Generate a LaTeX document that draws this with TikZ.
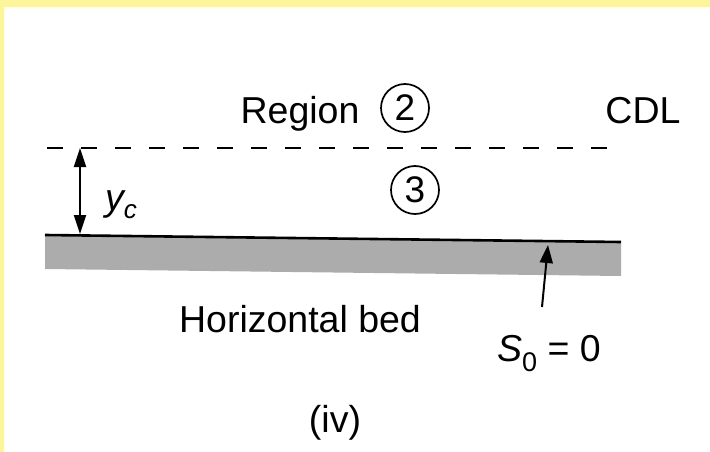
\documentclass[tikz,border=0pt]{standalone}
\usepackage{fontspec}
\setmainfont{Liberation Sans}
\usetikzlibrary{arrows.meta}
\definecolor{frameyellow}{RGB}{252,245,155}
\definecolor{bedgray}{RGB}{172,172,172}
\begin{document}
\begin{tikzpicture}[x=1pt,y=-1pt,
  lbl/.style={font=\fontsize{37.5}{40}\selectfont, inner sep=0pt, anchor=base},
  num/.style={circle, draw, line width=1.7pt, minimum size=48pt, inner sep=0pt, font=\fontsize{37}{40}\selectfont},
  arr/.style={line width=2pt, -{Triangle[length=18pt,width=13pt]}},
  dim/.style={line width=2pt, {Triangle[length=19pt,width=12pt]}-{Triangle[length=19pt,width=12pt]}},
  cdl/.style={line width=2.2pt, dash pattern=on 16pt off 18pt},
  bedline/.style={line width=2.6pt},
  bed/.style={fill=bedgray}]
\useasboundingbox (0,0) rectangle (710,452);
\fill[white] (0,0) rectangle (710,452);
\fill[frameyellow] (0,0) rectangle (710,6.7);
\fill[frameyellow] (0,0) rectangle (3.5,452);

% coordinates
\coordinate (cdlL) at (47,148);
\coordinate (cdlR) at (607,148);
\coordinate (bedL) at (45,235);
\coordinate (bedR) at (621,242);
\coordinate (bedRB) at (621,276);
\coordinate (bedLB) at (45,269);
\coordinate (ytop) at (80,148);
\coordinate (ybot) at (80,234);
\coordinate (s0tail) at (542,307);
\coordinate (s0tip) at (548,245);

% bed
\fill[bed] (bedL) -- (bedR) -- (bedRB) -- (bedLB) -- cycle;
\draw[bedline] (bedL) -- (bedR);

% critical depth line
\draw[cdl] (cdlL) -- (cdlR);

% dimension arrow
\draw[dim] (ytop) -- (ybot);

% slope arrow
\draw[arr] (s0tail) -- (s0tip);

% labels
\node[lbl] (region) at (300,124) {Region};
\node[lbl] (cdltext) at (643,123) {CDL};
\node[lbl] (hbed) at (300,332) {Horizontal bed};
\node[lbl] (iv) at (335,432) {(iv)};
\node[num] (c2) at (405,108) {2};
\node[num] (c3) at (415,190) {3};
\node[lbl, anchor=base west] (yc) at (105,210) {\itshape y\raisebox{-8pt}{\fontsize{26}{28}\selectfont c}};
\node[lbl, anchor=base west] (s0) at (497,361) {\itshape S\upshape\raisebox{-10pt}{\fontsize{27}{28}\selectfont 0} = 0};
\end{tikzpicture}
\end{document}
